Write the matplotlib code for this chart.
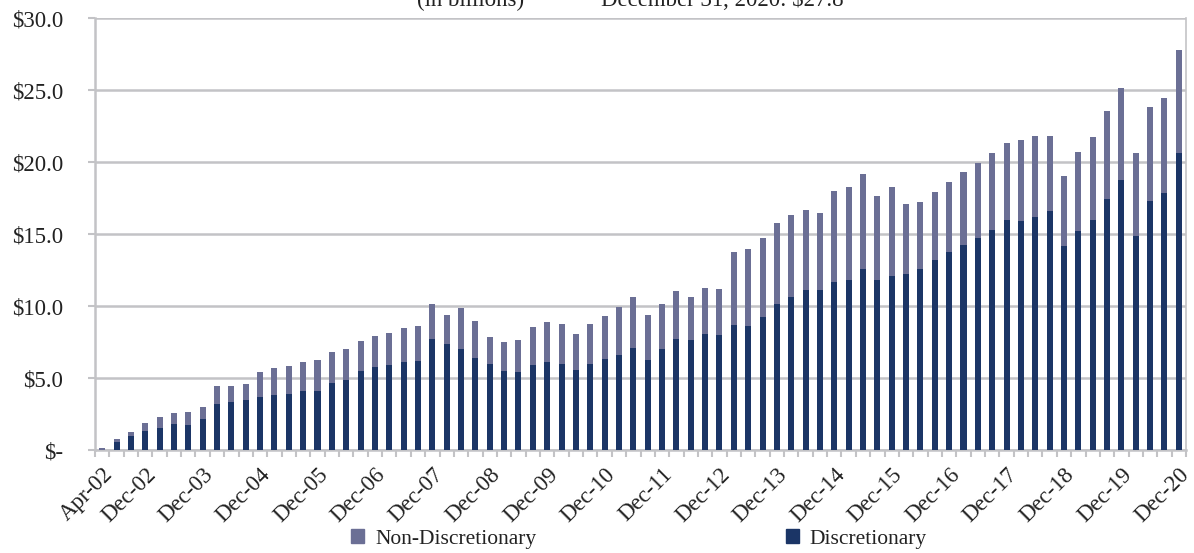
import numpy as np
import matplotlib.pyplot as plt
from matplotlib.patches import Patch

# Quarterly AUM, Apr-02 .. Dec-20 (in billions)
discretionary = [0.00, 0.56, 0.97, 1.32, 1.53, 1.81, 1.74, 2.15, 3.19, 3.33,
                 3.47, 3.68, 3.82, 3.89, 4.10, 4.10, 4.65, 4.86, 5.51, 5.74,
                 5.88, 6.09, 6.16, 7.69, 7.34, 6.99, 6.36, 5.95, 5.46, 5.39,
                 5.88, 6.09, 5.95, 5.53, 5.95, 6.30, 6.57, 7.06, 6.28, 6.98,
                 7.68, 7.61, 8.09, 8.02, 8.65, 8.58, 9.21, 10.11, 10.60, 11.09,
                 11.09, 11.64, 11.78, 12.55, 11.78, 12.06, 12.19, 12.59, 13.22, 13.77,
                 14.26, 14.75, 15.30, 16.00, 15.93, 16.20, 16.62, 14.19, 15.23, 16.00,
                 17.45, 18.77, 14.88, 17.31, 17.87, 20.60]
non_discretionary = [0.15, 0.20, 0.28, 0.56, 0.76, 0.76, 0.90, 0.84, 1.25, 1.11,
                     1.11, 1.74, 1.87, 1.94, 2.01, 2.15, 2.16, 2.15, 2.09, 2.16,
                     2.23, 2.37, 2.43, 2.44, 2.02, 2.86, 2.58, 1.88, 2.02, 2.23,
                     2.65, 2.78, 2.78, 2.51, 2.78, 2.99, 3.35, 3.55, 3.07, 3.13,
                     3.34, 2.99, 3.13, 3.13, 5.08, 5.36, 5.49, 5.64, 5.70, 5.56,
                     5.35, 6.33, 6.47, 6.61, 5.85, 6.19, 4.86, 4.66, 4.72, 4.86,
                     5.07, 5.20, 5.35, 5.34, 5.62, 5.63, 5.21, 4.86, 5.49, 5.76,
                     6.11, 6.39, 5.77, 6.53, 6.60, 7.20]

tick_labels = ['Apr-02'] + ['Dec-%02d' % y for y in range(2, 21)]
tick_index = [0] + [3 + 4 * k for k in range(19)]
y_ticks = [0, 5, 10, 15, 20, 25, 30]
y_labels = ['$-', '$5.0', '$10.0', '$15.0', '$20.0', '$25.0', '$30.0']

navy = '#1b3566'
lilac = '#6b6f95'
grid_col = '#c3c3c6'

plt.rcParams['font.family'] = ['Liberation Serif', 'DejaVu Serif']

fig = plt.figure(figsize=(11.94, 5.53), dpi=100)
ax = fig.add_axes([95 / 1194, 1 - 450 / 553, 1091 / 1194, 432 / 553])

x = np.arange(len(discretionary))
ax.bar(x, discretionary, width=0.42, color=navy, zorder=3)
ax.bar(x, non_discretionary, width=0.42, bottom=discretionary, color=lilac, zorder=3)

ax.set_xlim(-0.5, len(x) - 0.5)
ax.set_ylim(0, 30)

# y axis
ax.set_yticks(y_ticks)
ax.set_yticklabels([s.replace('$', '\\$') for s in y_labels], fontsize=16.5, color='#222222')
ax.tick_params(axis='y', length=5, width=1.5, color=grid_col, pad=18)
ax.grid(axis='y', color=grid_col, linewidth=1.8, zorder=0)

# x axis: tick marks between categories, labels under category
ax.set_xticks(tick_index)
ax.set_xticklabels(tick_labels, rotation=45, ha='right', va='top',
                   rotation_mode='anchor', fontsize=16.5, color='#222222')
ax.set_xticks(np.arange(-0.5, len(x)), minor=True)
ax.tick_params(axis='x', which='major', length=0, pad=10)
ax.tick_params(axis='x', which='minor', length=5, width=1.5, color=grid_col)

for side in ['left', 'right', 'bottom']:
    ax.spines[side].set_color(grid_col)
    ax.spines[side].set_linewidth(1.8)
ax.spines['right'].set_linewidth(1.2)
ax.spines['top'].set_visible(False)

# partially visible heading at the very top
fig.text(417 / 1194, 1 - 6 / 553, '(in billions)', fontsize=16.5, va='baseline', color='#222222')
fig.text(601 / 1194, 1 - 6 / 553, 'December 31, 2020: \\$27.8', fontsize=16.5,
         va='baseline', color='#222222')

handles = [Patch(color=lilac), Patch(color=navy)]
fig.legend(handles, ['Non-Discretionary', 'Discretionary'], ncol=2, loc='center',
           bbox_to_anchor=(639 / 1194, 1 - 539 / 553), frameon=False, fontsize=15.5,
           handlelength=0.6, handleheight=0.6, handletextpad=0.5, columnspacing=11.6,
           labelcolor='#222222')

fig.savefig('out.png', dpi=100)
